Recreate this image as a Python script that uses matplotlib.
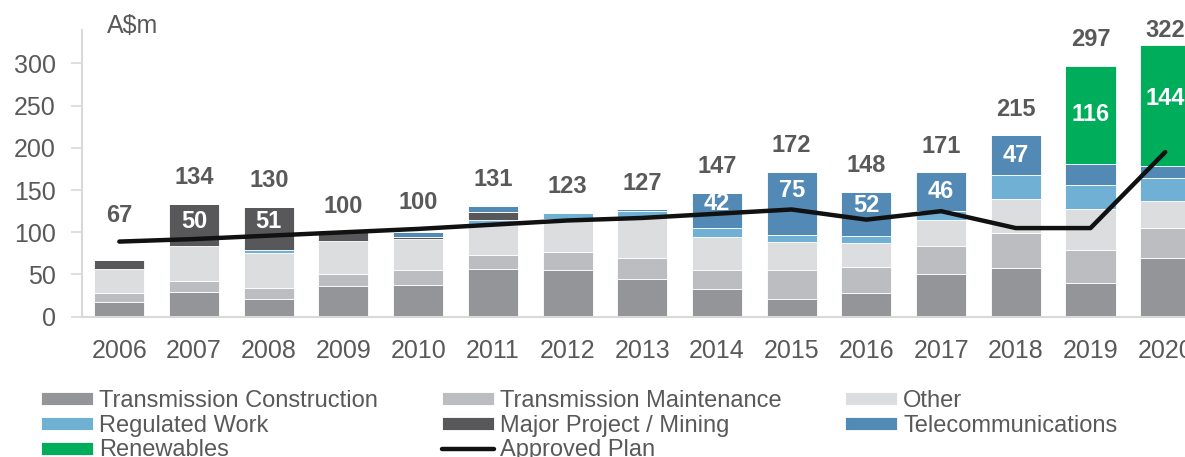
import matplotlib.pyplot as plt
import numpy as np

plt.rcParams['font.family'] = ['Liberation Sans', 'DejaVu Sans']

# Capex by category, A$m
years = ['2006', '2007', '2008', '2009', '2010', '2011', '2012', '2013',
         '2014', '2015', '2016', '2017', '2018', '2019', '2020']
trans_con = [17, 29, 21, 36, 38, 56, 55, 45, 33, 21, 28, 50, 58, 40, 70]
trans_maint = [11, 13, 13, 15, 17, 17, 22, 24, 22, 34, 31, 34, 41, 39, 35]
other = [29, 42, 41, 39, 37, 36, 39, 49, 39, 33, 28, 31, 41, 49, 32]
regulated = [0, 0, 4, 0, 0, 6, 7, 7, 11, 9, 9, 10, 28, 28, 27]
major = [10, 50, 51, 10, 3, 9, 0, 0, 0, 0, 0, 0, 0, 0, 0]
telecom = [0, 0, 0, 0, 5, 7, 0, 2, 42, 75, 52, 46, 47, 25, 14]
renewables = [0, 0, 0, 0, 0, 0, 0, 0, 0, 0, 0, 0, 0, 116, 144]
approved_plan = [89, 92, 96, 100, 104, 109, 114, 117, 122, 127, 115, 125, 105, 105, 195]

series = [
    ('Transmission Construction', trans_con, '#939598'),
    ('Transmission Maintenance', trans_maint, '#bcbdc0'),
    ('Other', other, '#dcdddf'),
    ('Regulated Work', regulated, '#70b0d5'),
    ('Major Project / Mining', major, '#58585a'),
    ('Telecommunications', telecom, '#5289b5'),
    ('Renewables', renewables, '#00ad5a'),
]
labelled = ['Major Project / Mining', 'Telecommunications', 'Renewables']
txt_col = '#595959'

fig = plt.figure(figsize=(11.85, 4.57), dpi=100)
ax = fig.add_axes([0.0692, 0.307, 0.9456, 0.628])

x = np.arange(len(years))
bottom = np.zeros(len(years))
handles = {}
for name, vals, col in series:
    vals = np.array(vals, dtype=float)
    h = ax.bar(x, vals, 0.67, bottom=bottom, color=col, edgecolor='white',
               linewidth=0.6, label=name, zorder=2)
    handles[name] = h
    if name in labelled:
        for i, v in enumerate(vals):
            if v >= 40:
                lo, hi = bottom[i], bottom[i] + v
                if approved_plan[i] < hi:
                    lo = max(lo, approved_plan[i])
                ax.text(x[i], (lo + hi) / 2, f'{int(v)}', ha='center', va='center',
                        color='white', fontsize=17, fontweight='bold', zorder=5)
    bottom += vals

line, = ax.plot(x, approved_plan, color='#111111', lw=3.2, solid_capstyle='round',
                zorder=4, label='Approved Plan')
handles['Approved Plan'] = line

for i, tot in enumerate(bottom):
    y = min(max(tot, approved_plan[i]) + 31, 339)
    ax.text(x[i], y, f'{int(tot)}', ha='center', va='center', color=txt_col,
            fontsize=17, fontweight='bold', zorder=5)

ax.set_xlim(-0.5, 14.5)
ax.set_ylim(0, 340)
ax.set_xticks(x)
ax.set_xticklabels(years)
ax.set_yticks([0, 50, 100, 150, 200, 250, 300])
ax.tick_params(axis='y', length=8, width=1.2, color='#d9d9d9', pad=11,
               labelsize=18, labelcolor=txt_col)
ax.tick_params(axis='x', length=0, pad=16, labelsize=18, labelcolor=txt_col)
for s in ['top', 'right']:
    ax.spines[s].set_visible(False)
for s in ['left', 'bottom']:
    ax.spines[s].set_color('#d9d9d9')
    ax.spines[s].set_linewidth(1.5)

ax.text(-0.17, 344, r'A\$m', ha='left', va='center', fontsize=18, color=txt_col,
        clip_on=False)

order = ['Transmission Construction', 'Regulated Work', 'Renewables',
         'Transmission Maintenance', 'Major Project / Mining', 'Approved Plan',
         'Other', 'Telecommunications']
fig.legend([handles[k] for k in order], order, ncol=3, loc='upper left',
           bbox_to_anchor=(0.0346, 0.147), frameon=False, fontsize=17,
           labelcolor=txt_col, handlelength=2.2, handleheight=0.47,
           handletextpad=0.25, columnspacing=2.71, labelspacing=0.12,
           borderpad=0, borderaxespad=0)

fig.savefig('out.png', dpi=100)
